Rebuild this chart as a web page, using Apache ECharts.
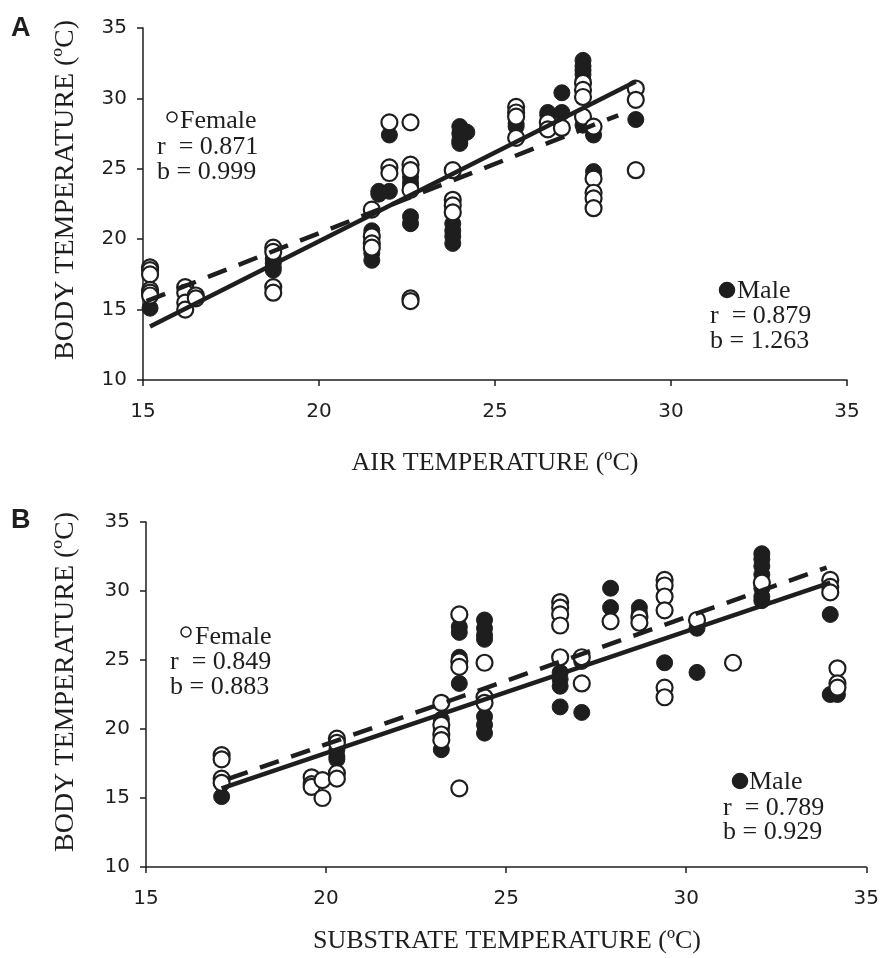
<!DOCTYPE html>
<html><head><meta charset="utf-8">
<script src="https://cdn.jsdelivr.net/npm/echarts@6/dist/echarts.min.js"></script>
<style>html,body{margin:0;padding:0;background:#fff}#c{width:882px;height:958px}</style>
</head><body><div id="c"></div>
<script>
// Panel A: body temperature vs air temperature
const femaleA = [
 [15.2,18.0],[15.2,17.8],[15.2,17.5],[15.2,16.4],[15.2,16.2],[15.2,16.0],
 [16.2,16.6],[16.2,16.2],[16.2,15.5],[16.2,15.0],[16.5,16.0],[16.5,15.8],
 [18.7,19.4],[18.7,19.1],[18.7,16.6],[18.7,16.2],
 [21.5,22.1],[21.5,20.2],[21.5,19.7],[21.5,19.4],
 [22.0,28.3],[22.0,25.1],[22.0,24.7],
 [22.6,28.3],[22.6,25.3],[22.6,24.9],[22.6,23.5],[22.6,15.8],[22.6,15.6],
 [23.8,24.9],[23.8,22.8],[23.8,22.4],[23.8,21.9],
 [25.6,29.4],[25.6,29.0],[25.6,28.7],[25.6,27.2],
 [26.5,28.3],[26.5,27.8],[26.9,27.9],
 [27.5,31.1],[27.5,30.6],[27.5,30.1],[27.5,28.7],
 [27.8,28.0],[27.8,24.3],[27.8,23.3],[27.8,22.9],[27.8,22.2],
 [29.0,30.7],[29.0,29.9],[29.0,24.9]
];
const maleA = [
 [15.2,15.1],[16.2,16.5],[16.2,16.3],
 [18.7,18.6],[18.7,18.3],[18.7,18.0],[18.7,17.8],
 [21.5,20.6],[21.5,20.3],[21.5,19.0],[21.5,18.5],
 [21.7,23.4],[21.7,23.2],
 [22.0,27.4],[22.0,25.0],[22.0,24.8],[22.0,23.4],
 [22.6,24.4],[22.6,24.0],[22.6,23.7],[22.6,21.6],[22.6,21.1],
 [23.8,21.1],[23.8,20.6],[23.8,20.2],[23.8,19.7],
 [24.0,28.0],[24.0,27.5],[24.0,27.0],[24.0,26.8],[24.2,27.6],
 [25.6,28.0],[25.6,28.2],[26.5,29.0],[26.5,28.8],[26.9,30.4],[26.9,29.0],
 [27.5,32.7],[27.5,32.3],[27.5,32.0],[27.5,31.7],[27.5,31.3],[27.5,28.1],
 [27.8,27.4],[27.8,24.8],[27.8,24.4],[29.0,28.5]
];
const maleLineA = [[15.2,13.8],[29.0,31.2]];
const femaleLineA = [[15.1,15.6],[28.5,28.8]];

// Panel B: body temperature vs substrate temperature
const femaleB = [
 [17.1,18.1],[17.1,17.8],[17.1,16.4],[17.1,16.1],
 [19.6,16.5],[19.6,16.0],[19.6,15.8],[19.9,16.3],[19.9,15.0],
 [20.3,19.3],[20.3,19.0],[20.3,16.8],[20.3,16.4],
 [23.2,21.9],[23.2,20.3],[23.2,19.6],[23.2,19.2],
 [23.7,28.3],[23.7,24.9],[23.7,24.5],[23.7,15.7],
 [24.4,24.8],[24.4,22.3],[24.4,21.9],
 [26.5,29.2],[26.5,28.8],[26.5,28.3],[26.5,27.5],[26.5,25.2],
 [27.1,25.2],[27.1,23.3],[27.9,27.8],[28.7,28.1],[28.7,27.7],
 [29.4,30.8],[29.4,30.4],[29.4,29.6],[29.4,28.6],[29.4,23.0],[29.4,22.3],
 [30.3,27.9],[31.3,24.8],[32.1,30.6],
 [34.0,30.8],[34.0,30.3],[34.0,29.9],[34.2,24.4],[34.2,23.3],[34.2,23.0]
];
const maleB = [
 [17.1,15.1],[20.3,18.5],[20.3,18.0],[20.3,17.8],
 [23.2,20.7],[23.2,20.0],[23.2,18.5],
 [23.7,27.4],[23.7,27.0],[23.7,25.2],[23.7,23.3],
 [24.4,27.9],[24.4,27.3],[24.4,26.8],[24.4,26.5],[24.4,20.9],[24.4,20.3],[24.4,19.7],
 [26.5,24.1],[26.5,23.6],[26.5,23.1],[26.5,21.6],
 [27.1,21.2],[27.1,24.9],[27.9,30.2],[27.9,28.8],[28.7,28.8],[28.7,28.4],
 [29.4,24.8],[30.3,27.3],[30.3,24.1],
 [32.1,32.7],[32.1,32.3],[32.1,31.8],[32.1,31.2],[32.1,30.2],[32.1,29.6],[32.1,29.3],
 [34.0,28.3],[34.0,22.5],[34.2,22.5]
];
const maleLineB = [[17.1,15.7],[34.0,30.6]];
const femaleLineB = [[17.3,16.4],[33.9,31.7]];

const statsA = {female:['r  = 0.871','b = 0.999'], male:['r  = 0.879','b = 1.263']};
const statsB = {female:['r  = 0.849','b = 0.883'], male:['r  = 0.789','b = 0.929']};
const yTitle = 'BODY TEMPERATURE (ºC)';
const xTitleA = 'AIR TEMPERATURE (ºC)';
const xTitleB = 'SUBSTRATE TEMPERATURE (ºC)';

const ink = '#1e1e1e';
const serif = '"Liberation Serif","Times New Roman",serif';
const sans = '"DejaVu Sans",Verdana,sans-serif';

function xAx(gi){return {type:'value',gridIndex:gi,min:15,max:35,interval:5,
  axisLine:{lineStyle:{color:ink,width:1.5}},axisTick:{length:6,lineStyle:{color:ink,width:1.5}},
  splitLine:{show:false},axisLabel:{color:ink,fontFamily:sans,fontSize:20,margin:22}};}
function yAx(gi){return {type:'value',gridIndex:gi,min:10,max:35,interval:5,
  axisLine:{show:true,lineStyle:{color:ink,width:1.5}},axisTick:{show:true,length:6,lineStyle:{color:ink,width:1.5}},
  splitLine:{show:false},axisLabel:{color:ink,fontFamily:sans,fontSize:20,margin:16}};}
function open(data,gi){return {type:'scatter',xAxisIndex:gi,yAxisIndex:gi,data,symbol:'circle',symbolSize:16,
  itemStyle:{color:'#fff',borderColor:ink,borderWidth:2.2,opacity:1},z:3};}
function filled(data,gi){return {type:'scatter',xAxisIndex:gi,yAxisIndex:gi,data,symbol:'circle',symbolSize:16,
  itemStyle:{color:ink,borderColor:ink,borderWidth:1,opacity:1},z:3};}
function line(data,gi,dash){return {type:'line',xAxisIndex:gi,yAxisIndex:gi,data,symbol:'none',
  lineStyle:{color:ink,width:4.5,type:dash?[20,13]:'solid',cap:'butt'},z:5,silent:true};}

function txt(x,y,s,size,font,weight,rot){return {type:'text',x,y,rotation:rot||0,
  style:{text:s,fontSize:size,fontFamily:font,fontWeight:weight||'normal',fill:ink,
  textAlign:rot?'center':'left',textVerticalAlign:'middle'}};}
function ctext(x,y,s){return {type:'text',x,y,style:{text:s,fontSize:26,fontFamily:serif,fill:ink,textAlign:'center',textVerticalAlign:'middle'}};}
function circ(cx,cy,r,fill){return {type:'circle',shape:{cx,cy,r},style:{fill:fill?ink:'#fff',stroke:ink,lineWidth:1.5}};}

const graphics = [
  txt(11,29,'A',27,'"Liberation Sans",Arial,sans-serif','bold'),
  txt(11,521,'B',27,'"Liberation Sans",Arial,sans-serif','bold'),
  txt(66,190,yTitle,28,serif,'normal',Math.PI/2),
  txt(66,682,yTitle,28,serif,'normal',Math.PI/2),
  ctext(495,463,xTitleA),
  ctext(507,941,xTitleB),
  // panel A annotations
  circ(172,117,5,false), txt(180,121,'Female',26,serif),
  txt(157,147,statsA.female[0],26,serif), txt(157,172,statsA.female[1],26,serif),
  circ(727,290,7.5,true), txt(737,291,'Male',26,serif),
  txt(710,316,statsA.male[0],26,serif), txt(710,341,statsA.male[1],26,serif),
  // panel B annotations
  circ(186,632,5,false), txt(195,637,'Female',26,serif),
  txt(170,662,statsB.female[0],26,serif), txt(170,687,statsB.female[1],26,serif),
  circ(740,781,7.5,true), txt(749,782,'Male',26,serif),
  txt(723,808,statsB.male[0],26,serif), txt(723,832,statsB.male[1],26,serif)
];

const chart = echarts.init(document.getElementById('c'),null,{renderer:'canvas'});
chart.setOption({
  animation:false,
  backgroundColor:'#fff',
  grid:[{left:143,top:28,width:704,height:352},{left:146,top:522,width:722,height:345}],
  xAxis:[xAx(0),xAx(1)],
  yAxis:[yAx(0),yAx(1)],
  series:[
    filled(maleA,0),open(femaleA,0),line(maleLineA,0,false),line(femaleLineA,0,true),
    filled(maleB,1),open(femaleB,1),line(maleLineB,1,false),line(femaleLineB,1,true)
  ],
  graphic:graphics
});
</script></body></html>
